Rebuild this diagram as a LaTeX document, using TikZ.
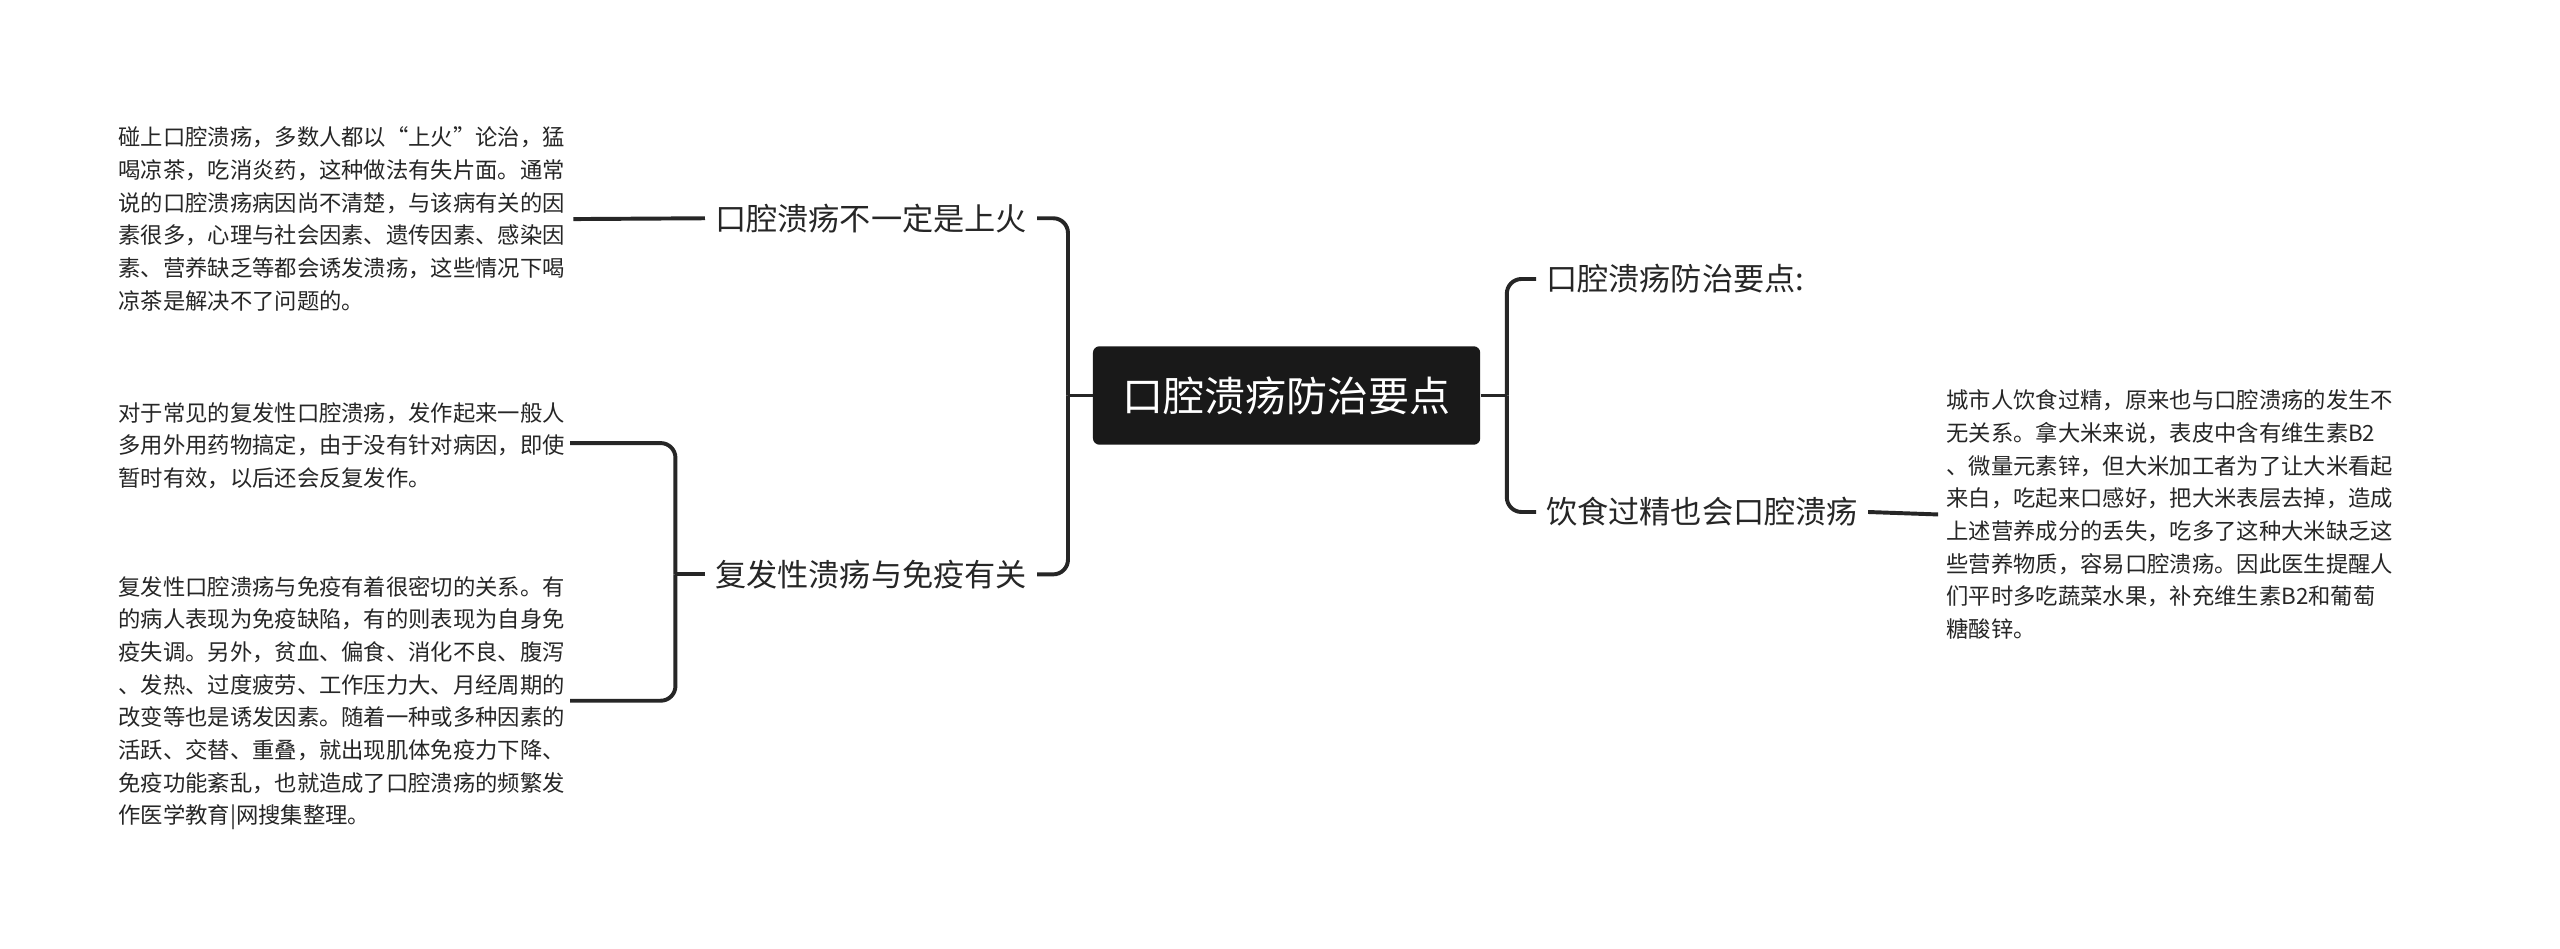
\documentclass[tikz,border=0pt]{standalone}
\usepackage{fontspec}
\setmainfont{Noto Sans CJK SC}
\tikzset{
  x=1pt,y=-1pt,
  conn/.style={draw=black!85,line width=2.4pt,rounded corners=9pt},
  topic/.style={font=\fontsize{19}{24}\selectfont,inner sep=6pt,text=black!85},
  note/.style={font=\fontsize{13.6}{19.9}\selectfont,align=left,inner xsep=5pt,inner ysep=0pt,text=black!85},
}
\begin{document}
\begin{tikzpicture}
\useasboundingbox[fill=white] (0,0) rectangle (1560,578);
% CENTER ======================================================================
\node[fill=black!90,text=white,rounded corners=4pt,minimum width=236pt,minimum height=60pt,
      font=\fontsize{25}{30}\selectfont] (root) at (784,241) {口腔溃疡防治要点};

% LEFT BRANCHES ===============================================================
\node[topic,anchor=east] (cause) at (632,133) {口腔溃疡不一定是上火};
\node[topic,anchor=east] (immune) at (632,350) {复发性溃疡与免疫有关};
\draw[conn] (root.west) -- ++(-15,0) coordinate (lj);
\draw[conn] (lj) |- (cause.east);
\draw[conn] (lj) |- (immune.east);

\node[note,anchor=west] (causetxt) at (67,133.5) {碰上口腔溃疡，多数人都以“上火”论治，猛\\喝凉茶，吃消炎药，这种做法有失片面。通常\\说的口腔溃疡病因尚不清楚，与该病有关的因\\素很多，心理与社会因素、遗传因素、感染因\\素、营养缺乏等都会诱发溃疡，这些情况下喝\\凉茶是解决不了问题的。};
\draw[conn] (causetxt.east) -- (cause.west);

\node[note,anchor=west] (immtxt1) at (67,271.5) {对于常见的复发性口腔溃疡，发作起来一般人\\多用外用药物搞定，由于没有针对病因，即使\\暂时有效，以后还会反复发作。};
\node[note,anchor=west] (immtxt2) at (67,428.5) {复发性口腔溃疡与免疫有着很密切的关系。有\\的病人表现为免疫缺陷，有的则表现为自身免\\疫失调。另外，贫血、偏食、消化不良、腹泻\\、发热、过度疲劳、工作压力大、月经周期的\\改变等也是诱发因素。随着一种或多种因素的\\活跃、交替、重叠，就出现肌体免疫力下降、\\免疫功能紊乱，也就造成了口腔溃疡的频繁发\\作医学教育|网搜集整理。};
\draw[conn] (immune.west) -- ++(-18,0) coordinate (lk);
\draw[conn] (lk) |- ([xshift=-2pt]immtxt1.east |- 0,270);
\draw[conn] (lk) |- ([xshift=-2pt]immtxt1.east |- 0,427);

% RIGHT BRANCHES ==============================================================
\node[topic,anchor=west] (points) at (936,170) {口腔溃疡防治要点:};
\node[topic,anchor=west] (diet) at (936,312) {饮食过精也会口腔溃疡};
\draw[conn] (root.east) -- ++(16,0) coordinate (rj);
\draw[conn] (rj) |- (points.west);
\draw[conn] (rj) |- (diet.west);

\node[note,anchor=west] (diettxt) at (1181,313.5) {城市人饮食过精，原来也与口腔溃疡的发生不\\无关系。拿大米来说，表皮中含有维生素B2\\、微量元素锌，但大米加工者为了让大米看起\\来白，吃起来口感好，把大米表层去掉，造成\\上述营养成分的丢失，吃多了这种大米缺乏这\\些营养物质，容易口腔溃疡。因此医生提醒人\\们平时多吃蔬菜水果，补充维生素B2和葡萄\\糖酸锌。};
\draw[conn] (diet.east) -- (diettxt.west);
\end{tikzpicture}
\end{document}
